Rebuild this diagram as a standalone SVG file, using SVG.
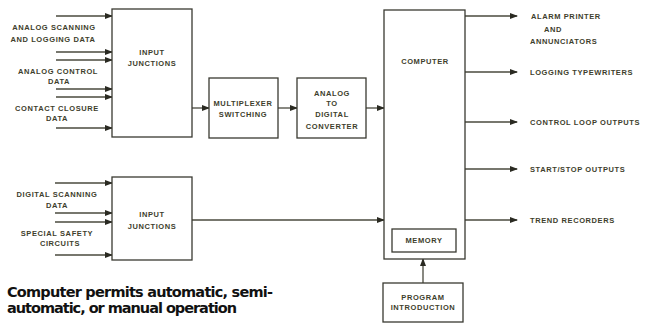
<svg xmlns="http://www.w3.org/2000/svg" width="646" height="325" viewBox="0 0 646 325">
<defs>
<marker id="ah" markerWidth="8" markerHeight="6" refX="7" refY="3" orient="auto" markerUnits="userSpaceOnUse">
<path d="M0,0 L8,3 L0,6 Z" fill="#2a2a22"/>
</marker>
<style>
.box{fill:#fff;stroke:#3a3a32;stroke-width:1.3}
.ln{fill:none;stroke:#4a4a3e;stroke-width:1.3;marker-end:url(#ah)}
.t{font-family:"Liberation Sans",Arial,sans-serif;font-size:7.5px;font-weight:bold;fill:#3e3e2c;letter-spacing:0.6px}
.tm{text-anchor:middle}
.cap{font-family:"DejaVu Sans","Liberation Sans",sans-serif;font-size:14.5px;font-weight:bold;fill:#111}
</style>
</defs>
<rect width="646" height="325" fill="#fff"/>
<g id="connectors">
<line class="ln" x1="56" y1="16" x2="112" y2="16"/>
<line class="ln" x1="56" y1="52" x2="112" y2="52"/>
<line class="ln" x1="56" y1="60" x2="112" y2="60"/>
<line class="ln" x1="56" y1="89" x2="112" y2="89"/>
<line class="ln" x1="56" y1="97" x2="112" y2="97"/>
<line class="ln" x1="56" y1="128" x2="112" y2="128"/>
<line class="ln" x1="55" y1="183" x2="112" y2="183"/>
<line class="ln" x1="55" y1="213" x2="112" y2="213"/>
<line class="ln" x1="55" y1="222" x2="112" y2="222"/>
<line class="ln" x1="55" y1="255" x2="112" y2="255"/>
<line class="ln" x1="192" y1="108" x2="209" y2="108"/>
<line class="ln" x1="278" y1="108" x2="297" y2="108"/>
<line class="ln" x1="366" y1="108" x2="384" y2="108"/>
<line class="ln" x1="192" y1="220" x2="384" y2="220"/>
<line class="ln" x1="465" y1="16" x2="517" y2="16"/>
<line class="ln" x1="465" y1="72" x2="517" y2="72"/>
<line class="ln" x1="465" y1="122" x2="517" y2="122"/>
<line class="ln" x1="465" y1="169" x2="517" y2="169"/>
<line class="ln" x1="465" y1="220" x2="517" y2="220"/>
<line class="ln" x1="423" y1="283" x2="423" y2="259"/>
</g>
<g id="input-labels">
<text class="t tm" x="54" y="30">ANALOG SCANNING</text>
<text class="t tm" x="53" y="42">AND LOGGING DATA</text>
<text class="t tm" x="58" y="74">ANALOG CONTROL</text>
<text class="t tm" x="59" y="84">DATA</text>
<text class="t tm" x="57" y="111">CONTACT CLOSURE</text>
<text class="t tm" x="57" y="121">DATA</text>
<text class="t tm" x="57" y="197">DIGITAL SCANNING</text>
<text class="t tm" x="57" y="208">DATA</text>
<text class="t tm" x="57" y="236">SPECIAL SAFETY</text>
<text class="t tm" x="60" y="246">CIRCUITS</text>
</g>
<g id="input-junctions-1">
<rect class="box" x="112" y="9" width="80" height="128"/>
<text class="t tm" x="152" y="55">INPUT</text>
<text class="t tm" x="152" y="66">JUNCTIONS</text>
</g>
<g id="input-junctions-2">
<rect class="box" x="112" y="177" width="80" height="83"/>
<text class="t tm" x="152" y="217">INPUT</text>
<text class="t tm" x="152" y="229">JUNCTIONS</text>
</g>
<g id="multiplexer">
<rect class="box" x="209" y="78" width="69" height="60"/>
<text class="t tm" x="243" y="106">MULTIPLEXER</text>
<text class="t tm" x="243" y="117">SWITCHING</text>
</g>
<g id="adc">
<rect class="box" x="297" y="78" width="69" height="60"/>
<text class="t tm" x="332" y="96">ANALOG</text>
<text class="t tm" x="332" y="106">TO</text>
<text class="t tm" x="332" y="117">DIGITAL</text>
<text class="t tm" x="332" y="129">CONVERTER</text>
</g>
<g id="computer">
<rect class="box" x="384" y="10" width="81" height="249"/>
<text class="t tm" x="425" y="64">COMPUTER</text>
</g>
<g id="memory">
<rect class="box" x="392" y="229" width="64" height="23" stroke-width="1.8"/>
<text class="t tm" x="424" y="243">MEMORY</text>
</g>
<g id="program">
<rect class="box" x="383" y="283" width="80" height="39"/>
<text class="t tm" x="423" y="300">PROGRAM</text>
<text class="t tm" x="423" y="310">INTRODUCTION</text>
</g>
<g id="output-labels">
<text class="t" x="531" y="19">ALARM PRINTER</text>
<text class="t tm" x="553" y="32">AND</text>
<text class="t" x="530" y="44">ANNUNCIATORS</text>
<text class="t" x="530" y="75">LOGGING TYPEWRITERS</text>
<text class="t" x="530" y="125">CONTROL LOOP OUTPUTS</text>
<text class="t" x="530" y="172">START/STOP OUTPUTS</text>
<text class="t" x="530" y="223">TREND RECORDERS</text>
</g>
<g id="caption">
<text class="cap" x="7" y="297" textLength="266" lengthAdjust="spacing">Computer permits automatic, semi-</text>
<text class="cap" x="7" y="313" textLength="230" lengthAdjust="spacing">automatic, or manual operation</text>
</g>
</svg>
